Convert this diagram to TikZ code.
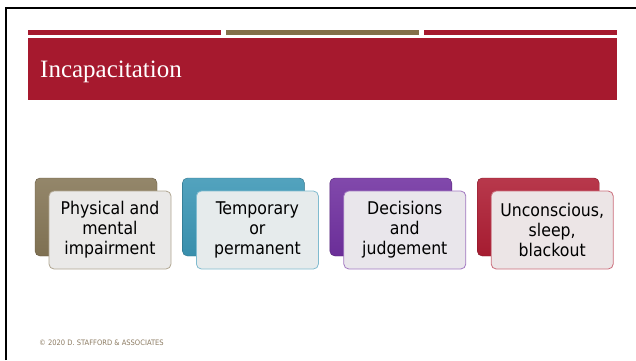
\documentclass[tikz,border=0pt]{standalone}
\usepackage{fontspec}
\setmainfont{Liberation Serif}
\setsansfont{DejaVu Sans Condensed}
\usetikzlibrary{positioning}

\definecolor{slidered}{HTML}{A6192E}
\definecolor{slidebronze}{HTML}{83704A}
\definecolor{footgray}{HTML}{8C7B62}
% box colours
\definecolor{boxolive}{HTML}{857656}
\definecolor{boxteal}{HTML}{3B96B5}
\definecolor{boxpurple}{HTML}{7030A0}
\definecolor{boxred}{HTML}{AE1D33}

\begin{document}
\begin{tikzpicture}[
        x=1pt, y=-1pt,
        node distance=25pt,
        % back card, coloured
        backbox/.style={
                rectangle, rounded corners=5pt,
                minimum width=122pt, minimum height=78pt, inner sep=0pt,
                draw=#1!75!black, top color=#1!88!white, bottom color=#1!95!black
            },
        % front card, light with text
        frontbox/.style={
                rectangle, rounded corners=5pt,
                minimum width=122pt, minimum height=78pt, inner sep=0pt,
                draw=#1!65!white, line width=0.8pt, fill=#1!5!white!94!black,
                align=center, font=\sffamily\fontsize{17.5}{20}\selectfont
            },
        title/.style={font=\fontsize{25}{28}\selectfont, text=white, inner sep=0pt}
    ]
    \useasboundingbox (0,0) rectangle (636,360);

    %% ---- Slide frame and header ----
    \draw[line width=2pt] (6,360) -- (6,7.5) -- (636,7.5);
    \fill[slidered]    (28,30)  rectangle (221,35);
    \fill[slidebronze] (226,30) rectangle (419,35);
    \fill[slidered]    (424,30) rectangle (617,35);
    \fill[slidered]    (28,38)  rectangle (617,100);
    \node[title, anchor=base west] (title) at (40,77) {Incapacitation};

    %% ---- Back cards ----
    \node[backbox=boxolive] (b1) at (96,217) {};
    \node[backbox=boxteal, right=of b1] (b2) {};
    \node[backbox=boxpurple, right=of b2] (b3) {};
    \node[backbox=boxred, right=of b3] (b4) {};

    %% ---- Front cards ----
    \node[frontbox=boxolive] (f1) at ([xshift=14pt,yshift=-13pt] b1.center) {Physical and\\mental\\impairment};
    \node[frontbox=boxteal] (f2) at ([xshift=14pt,yshift=-13pt] b2.center) {Temporary\\or\\permanent};
    \node[frontbox=boxpurple] (f3) at ([xshift=14pt,yshift=-13pt] b3.center) {Decisions\\and\\judgement};
    \node[frontbox=boxred] (f4) at ([xshift=14pt,yshift=-13pt] b4.center) {Unconscious,\\sleep,\\blackout};

    %% ---- Footer ----
    \node[anchor=west, inner sep=0pt, text=footgray, font=\sffamily\fontsize{7.5}{8}\selectfont] (footer) at (39,343) {© 2020 D. STAFFORD \& ASSOCIATES};

\end{tikzpicture}
\end{document}
